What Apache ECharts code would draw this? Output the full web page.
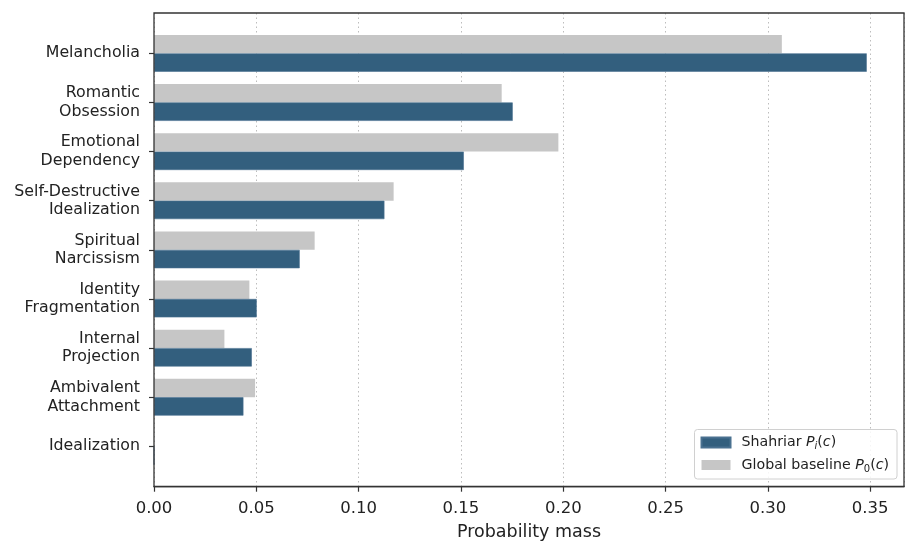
<!DOCTYPE html>
<html>
<head>
<meta charset="utf-8">
<script src="https://cdn.jsdelivr.net/npm/echarts@6/dist/echarts.min.js"></script>
<style>
html,body{margin:0;padding:0;background:#fff;}
#chart{width:917px;height:554px;}
</style>
</head>
<body>
<div id="chart"></div>
<script>
const categories = ['Melancholia','Romantic\nObsession','Emotional\nDependency','Self-Destructive\nIdealization','Spiritual\nNarcissism','Identity\nFragmentation','Internal\nProjection','Ambivalent\nAttachment','Idealization'];
const shahriar = [0.3483, 0.1753, 0.1514, 0.1126, 0.0712, 0.0502, 0.0478, 0.0437, 0];
const baseline = [0.3068, 0.1699, 0.1976, 0.1171, 0.0785, 0.0466, 0.0344, 0.0494, 0];
const xTicks = [0, 0.05, 0.10, 0.15, 0.20, 0.25, 0.30, 0.35];
const xMax = 0.3665;

const FONT = 'DejaVu Sans';
const chart = echarts.init(document.getElementById('chart'), null, {renderer:'canvas'});
const LF = 14.2;
const legendRich = {
  first: {fontFamily: FONT, fontSize: LF, color: '#222', padding: [0, 0, 0, 6]},
  n: {fontFamily: FONT, fontSize: LF, color: '#222'},
  it: {fontFamily: FONT, fontSize: LF, fontStyle: 'italic', color: '#222'},
  sub: {fontFamily: FONT, fontSize: 10, fontStyle: 'italic', color: '#222', padding: [8, 0, 0, 0]},
  subn: {fontFamily: FONT, fontSize: 10, color: '#222', padding: [8, 0, 0, 0]}
};
chart.setOption({
  animation: false,
  backgroundColor: '#fff',
  grid: [
    {left: 154, right: 13, top: 28.8, bottom: 83.1, containLabel: false},
    {left: 154, right: 13, top: 13, bottom: 67.3, show: true, borderColor: '#333', borderWidth: 1.3, backgroundColor: 'transparent', z: 5}
  ],
  legend: {
    data: ['Shahriar', 'Global'],
    orient: 'vertical',
    right: 20, bottom: 75,
    icon: 'rect',
    itemWidth: 29, itemHeight: 10, itemGap: 6.5,
    padding: [6, 8, 5, 6],
    backgroundColor: 'rgba(255,255,255,0.85)',
    borderColor: '#d0d0d0', borderWidth: 1, borderRadius: 3,
    formatter: function (name) {
      if (name === 'Shahriar') return '{first|Shahriar }{it|P}{sub|i}{n|(}{it|c}{n|)}';
      return '{first|Global baseline }{it|P}{subn|0}{n|(}{it|c}{n|)}';
    },
    textStyle: {rich: legendRich, fontFamily: FONT, fontSize: LF}
  },
  xAxis: [
    {type: 'value', gridIndex: 0, min: 0, max: xMax, show: false},
    {type: 'value', gridIndex: 1, min: 0, max: xMax, interval: 0.05,
      axisLine: {show: true, lineStyle: {color: '#333', width: 1.3}},
      axisTick: {show: true, length: 5, lineStyle: {color: '#333', width: 1.2}},
      axisLabel: {show: true, showMaxLabel: false, fontFamily: FONT, fontSize: 16.5, color: '#222', margin: 14,
        formatter: function (v) { return v.toFixed(2); }},
      splitLine: {show: true, lineStyle: {color: '#bdbdbd', type: [1.5, 3], width: 1}},
      name: 'Probability mass', nameLocation: 'middle', nameGap: 37,
      nameTextStyle: {fontFamily: FONT, fontSize: 17.5, color: '#222'}
    }
  ],
  yAxis: [
    {type: 'category', gridIndex: 0, data: categories, inverse: true,
      axisLine: {show: false},
      axisTick: {show: true, alignWithLabel: true, length: 5, lineStyle: {color: '#333', width: 1.2}},
      axisLabel: {fontFamily: FONT, fontSize: 15.8, color: '#222', margin: 14, lineHeight: 18.5, align: 'right'},
      splitLine: {show: false}
    },
    {type: 'value', gridIndex: 1, show: false}
  ],
  series: [
    {name: 'Global', type: 'bar', xAxisIndex: 0, yAxisIndex: 0, data: baseline, barWidth: 18.4, barGap: '0%',
      itemStyle: {color: '#c6c6c6'}},
    {name: 'Shahriar', type: 'bar', xAxisIndex: 0, yAxisIndex: 0, data: shahriar, barWidth: 18.4, barGap: '0%',
      itemStyle: {color: '#335f7e', borderColor: '#4a7190', borderWidth: 0.6}}
  ]
});
</script>
</body>
</html>
